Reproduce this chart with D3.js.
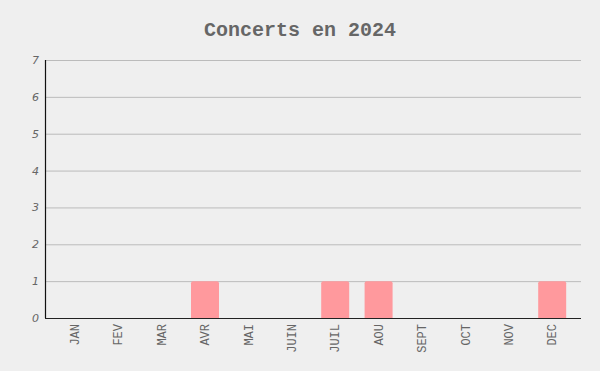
<!DOCTYPE html>
<html>
<head>
<meta charset="utf-8">
<script src="https://cdn.jsdelivr.net/npm/d3@7"></script>
<style>
  body { margin: 0; background: #efefef; }
</style>
</head>
<body>
<svg id="chart"></svg>
<script>
const months = ['JAN', 'FEV', 'MAR', 'AVR', 'MAI', 'JUIN', 'JUIL', 'AOU', 'SEPT', 'OCT', 'NOV', 'DEC'];
const concerts = [0, 0, 0, 1, 0, 0, 1, 1, 0, 0, 0, 1];
const yTicks = [0, 1, 2, 3, 4, 5, 6, 7];

const width = 600;
const height = 371;
const axisLeft = 45;
const axisRight = 581;
const marginTop = 60;
const baseline = 318;

const svg = d3.select('#chart')
  .attr('width', width)
  .attr('height', height)
  .style('display', 'block')
  .style('background', '#efefef');

// title
svg.append('text')
  .attr('x', width / 2)
  .attr('y', 36)
  .attr('text-anchor', 'middle')
  .attr('fill', '#666')
  .style('font', 'bold 20px "Liberation Mono", monospace')
  .text('Concerts en 2024');

const x = d3.scaleBand()
  .domain(months)
  .range([53, 574])
  .paddingInner(0.355)
  .paddingOuter(0.18);

const y = d3.scaleLinear()
  .domain([0, 7])
  .range([baseline, marginTop]);

// gridlines
svg.append('g')
  .selectAll('line')
  .data(yTicks.filter((d) => d > 0))
  .join('line')
  .attr('x1', axisLeft)
  .attr('x2', axisRight)
  .attr('y1', (d) => y(d) + 0.5)
  .attr('y2', (d) => y(d) + 0.5)
  .attr('stroke', '#bbb')
  .attr('stroke-width', 1);

// bars with slightly rounded tops
const r = 2;
svg.append('g')
  .selectAll('path')
  .data(months.map((m, i) => ({ m, v: concerts[i] })).filter((d) => d.v > 0))
  .join('path')
  .attr('fill', '#ff999d')
  .attr('d', (d) => {
    const x0 = x(d.m), x1 = x0 + x.bandwidth();
    const y0 = y(d.v), y1 = y(0);
    return `M${x0},${y1}V${y0 + r}Q${x0},${y0} ${x0 + r},${y0}H${x1 - r}Q${x1},${y0} ${x1},${y0 + r}V${y1}Z`;
  });

// y axis
const yAxis = svg.append('g')
  .attr('transform', `translate(${axisLeft},0)`)
  .call(d3.axisLeft(y).tickValues(yTicks).tickFormat(d3.format('d')).tickSize(0).tickPadding(6));
yAxis.select('.domain').remove();
yAxis.selectAll('text')
  .attr('fill', '#666')
  .style('font', 'italic 11px "DejaVu Sans", sans-serif');

svg.append('line')
  .attr('x1', axisLeft + 0.5).attr('x2', axisLeft + 0.5)
  .attr('y1', marginTop).attr('y2', baseline)
  .attr('stroke', '#111').attr('stroke-width', 1.2);

// x axis
svg.append('line')
  .attr('x1', axisLeft).attr('x2', axisRight)
  .attr('y1', baseline + 0.5).attr('y2', baseline + 0.5)
  .attr('stroke', '#222').attr('stroke-width', 1.2);

const xAxis = svg.append('g')
  .attr('transform', `translate(0,${baseline})`)
  .call(d3.axisBottom(x).tickSize(0));
xAxis.select('.domain').remove();
xAxis.selectAll('text')
  .attr('fill', '#666')
  .attr('transform', 'rotate(-90)')
  .attr('text-anchor', 'end')
  .attr('x', -6)
  .attr('y', 0)
  .attr('dy', '0.35em')
  .style('font', '12px "Liberation Mono", monospace');
</script>
</body>
</html>
